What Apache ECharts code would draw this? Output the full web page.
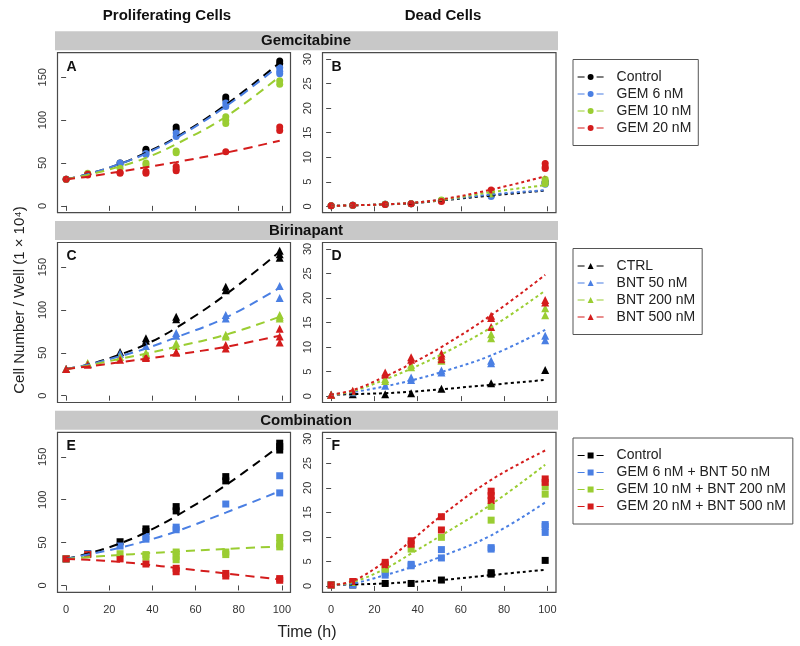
<!DOCTYPE html>
<html><head><meta charset="utf-8">
<script src="https://cdn.jsdelivr.net/npm/echarts@6/dist/echarts.min.js"></script>
<style>html,body{margin:0;padding:0;background:#fff}#c{width:800px;height:646px}</style>
</head><body><div id="c"></div>
<script>
// ---------- data ----------
const timePoints = [0, 10, 25, 37, 51, 74, 99];
const xTicks = [0, 20, 40, 60, 80, 100];
const prolifTicks = [0, 50, 100, 150];
const deadTicks = [0, 5, 10, 15, 20, 25, 30];

const gemLabels = ['Control', 'GEM 6 nM', 'GEM 10 nM', 'GEM 20 nM'];
const bntLabels = ['CTRL', 'BNT 50 nM', 'BNT 200 nM', 'BNT 500 nM'];
const comboLabels = ['Control', 'GEM 6 nM + BNT 50 nM', 'GEM 10 nM + BNT 200 nM', 'GEM 20 nM + BNT 500 nM'];
const stripTitles = ['Gemcitabine', 'Birinapant', 'Combination'];
const panelLetters = ['A', 'B', 'C', 'D', 'E', 'F'];

// Panel A: Gemcitabine, proliferating (replicates per time point)
const gemProlifControl = [[31],[37],[50],[66,64],[92,89],[127,124],[169,166]];
const gemProlif6 = [[31],[37],[50,48],[61,60],[85,81],[120,116],[161,157,154]];
const gemProlif10 = [[31],[38],[44],[50,48],[64,62],[104,100,96],[146,142]];
const gemProlif20 = [[31],[37,36],[39,38],[40,38],[46,43,41],[63],[92,88]];
const gemProlifFitControl = [31,37,49,62,80,118,167];
const gemProlifFit6 = [31,37,49,61,79,116,164];
const gemProlifFit10 = [31,36,46,56,72,104,151];
const gemProlifFit20 = [31,34,40,45,51,62,76];

// Panel B: Gemcitabine, dead
const gemDeadControl = [[0.1],[0.2],[0.4],[0.5],[1.2],[2.2],[5.0,4.7]];
const gemDead6 = [[0.1],[0.2],[0.4],[0.5],[1.2],[2.0],[4.9,4.5]];
const gemDead10 = [[0.1],[0.2],[0.4],[0.5],[1.3],[2.7,2.5],[5.5,5.0,4.6]];
const gemDead20 = [[0.1],[0.2],[0.35],[0.5],[1.0],[3.3],[8.7,8.0,7.7]];
const gemDeadFitControl = [0.1,0.2,0.4,0.6,1.2,2.2,3.2];
const gemDeadFit6 = [0.1,0.2,0.4,0.7,1.3,2.4,3.3];
const gemDeadFit10 = [0.1,0.2,0.4,0.7,1.3,2.9,4.3];
const gemDeadFit20 = [0.1,0.2,0.4,0.7,1.4,3.4,6.1];

// Panel C: Birinapant, proliferating
const bntProlifCtrl = [[31],[37],[51],[67,64],[92,89],[127,123],[169,165,161]];
const bntProlif50 = [[31],[37],[49],[58],[73,70],[94,90],[128,114]];
const bntProlif200 = [[31],[38],[45],[50,48],[61,58],[71,69],[94,92,90]];
const bntProlif500 = [[31],[36],[42],[45,44],[51,50],[59,55],[78,69,62]];
const bntProlifFitCtrl = [31,36,48,60,79,118,168];
const bntProlifFit50 = [31,36,46,55,68,91,126];
const bntProlifFit200 = [31,35,43,49,57,71,92];
const bntProlifFit500 = [31,34,39,43,48,57,70];

// Panel D: Birinapant, dead
const bntDeadCtrl = [[0.3],[0.4],[0.4],[0.6],[1.5],[2.6],[5.3]];
const bntDead50 = [[0.3],[0.8],[2.1],[3.8,3.3],[5.2,4.8],[7.2,6.7],[12.3,11.4]];
const bntDead200 = [[0.3],[1.0],[3.5,3.1],[6.4,5.9],[7.8,7.2],[12.6,11.8],[17.9,16.5]];
const bntDead500 = [[0.3],[1.1],[4.8,4.4],[7.9,7.4],[8.7,8.2,7.5],[16.4,15.9,14.1],[19.6,19.1]];
const bntDeadFitCtrl = [0.3,0.4,0.6,0.9,1.4,2.3,3.3];
const bntDeadFit50 = [0.3,0.8,2.0,3.2,4.9,8.3,13.5];
const bntDeadFit200 = [0.3,1.0,3.4,5.6,8.5,14.0,21.5];
const bntDeadFit500 = [0.3,1.2,4.0,6.6,10.0,16.5,24.7];

// Panel E: Combination, proliferating
const comboProlifControl = [[31],[37],[51],[66,63],[92,87],[127,122],[166,162,158]];
const comboProlifLow = [[31],[37],[46],[57,54],[68,65],[95],[128,108]];
const comboProlifMid = [[31],[36],[37],[36,33],[39,34,30],[39,36],[56,49,45]];
const comboProlifHigh = [[31],[36],[31],[25],[20,16],[14,11],[8,6]];
const comboProlifFitControl = [31,37,49,62,81,117,163];
const comboProlifFitLow = [31,36,44,52,63,85,110];
const comboProlifFitMid = [31,33,35.5,37.5,39.5,42.5,45.5];
const comboProlifFitHigh = [31,30,27.5,24.5,20.5,14,7];

// Panel F: Combination, dead
const comboDeadControl = [[0.2],[0.2],[0.5],[0.5],[1.2],[2.7,2.4],[5.2]];
const comboDeadLow = [[0.2],[0.2],[2.7,2.2],[4.4,4.1],[7.4,5.7],[7.8,7.5],[12.5,12.1,10.9]];
const comboDeadMid = [[0.2],[0.7],[3.7,3.4],[7.5],[9.9],[16.2,13.4],[20.2,18.7]];
const comboDeadHigh = [[0.2],[0.9],[4.8,4.3],[9.2,8.5],[14.1,11.4],[19.3,18.4,17.4],[21.8,21.1]];
const comboDeadFitControl = [0.2,0.3,0.5,0.8,1.2,2.2,3.3];
const comboDeadFitLow = [0.2,0.5,2.2,3.8,6.0,10.3,17.0];
const comboDeadFitMid = [0.2,0.8,3.5,6.6,10.3,16.6,24.7];
const comboDeadFitHigh = [0.2,1.0,5.0,9.2,14.3,21.6,27.6];

// ---------- build ----------
const colors = ['#000000', '#4a7fe3', '#9acd32', '#d41c1c'];
const groups = [
  { key: 'gem', labels: gemLabels, symbol: 'circle', size: 7,
    prolif: [gemProlifControl, gemProlif6, gemProlif10, gemProlif20],
    prolifFit: [gemProlifFitControl, gemProlifFit6, gemProlifFit10, gemProlifFit20],
    dead: [gemDeadControl, gemDead6, gemDead10, gemDead20],
    deadFit: [gemDeadFitControl, gemDeadFit6, gemDeadFit10, gemDeadFit20] },
  { key: 'bnt', labels: bntLabels, symbol: 'triangle', size: 8,
    prolif: [bntProlifCtrl, bntProlif50, bntProlif200, bntProlif500],
    prolifFit: [bntProlifFitCtrl, bntProlifFit50, bntProlifFit200, bntProlifFit500],
    dead: [bntDeadCtrl, bntDead50, bntDead200, bntDead500],
    deadFit: [bntDeadFitCtrl, bntDeadFit50, bntDeadFit200, bntDeadFit500] },
  { key: 'combo', labels: comboLabels, symbol: 'rect', size: 7,
    prolif: [comboProlifControl, comboProlifLow, comboProlifMid, comboProlifHigh],
    prolifFit: [comboProlifFitControl, comboProlifFitLow, comboProlifFitMid, comboProlifFitHigh],
    dead: [comboDeadControl, comboDeadLow, comboDeadMid, comboDeadHigh],
    deadFit: [comboDeadFitControl, comboDeadFitLow, comboDeadFitMid, comboDeadFitHigh] }
];

const FONT = '"Liberation Sans", Arial, sans-serif';
const colLeft = [57.5, 322.5], colWidth = [233, 233.5];
const rowTop = [52.7, 242.5, 432.3], rowH = 160;
const grids = [], xAxes = [], yAxes = [];
for (let i = 0; i < 6; i++) {
  const c = i % 2, r = Math.floor(i / 2);
  grids.push({ left: colLeft[c], top: rowTop[r], width: colWidth[c], height: rowH,
    show: true, borderColor: '#4a4a4a', borderWidth: 1.2, backgroundColor: '#fff' });
  xAxes.push({ gridIndex: i, type: 'value', min: -4, max: 104,
    axisLine: { show: false }, splitLine: { show: false },
    axisTick: { show: true, customValues: xTicks, length: 5, lineStyle: { color: '#4a4a4a', width: 1 } },
    axisLabel: { show: r === 2, customValues: xTicks, fontSize: 11, fontFamily: FONT, color: '#333', margin: 12 } });
  const ticks = c === 0 ? prolifTicks : deadTicks;
  yAxes.push({ gridIndex: i, type: 'value',
    min: c === 0 ? -8 : -1.3, max: c === 0 ? 178.7 : 31.3,
    axisLine: { show: false }, splitLine: { show: false },
    axisTick: { show: true, customValues: ticks, length: 5, lineStyle: { color: '#4a4a4a', width: 1 } },
    axisLabel: { customValues: ticks, rotate: 90, fontSize: 11, fontFamily: FONT, color: '#333', margin: 9 } });
}

const series = [];
const labelMap = {};
function pts(reps) {
  const out = [];
  reps.forEach((vals, k) => vals.forEach(v => out.push([timePoints[k], v])));
  return out;
}
function fit(vals) { return vals.map((v, k) => [timePoints[k], v]); }
groups.forEach((g, gi) => {
  const gP = gi * 2, gD = gi * 2 + 1;
  for (let s = 0; s < 4; s++) {
    const name = g.key + '|' + s;
    labelMap[name] = g.labels[s];
    series.push({ type: 'line', name, xAxisIndex: gP, yAxisIndex: gP, data: fit(g.prolifFit[s]),
      smooth: 0.4, symbol: g.symbol, showSymbol: false, silent: true,
      color: colors[s], lineStyle: { color: colors[s], width: 2, type: [9, 6] } });
  }
  for (let s = 0; s < 4; s++) {
    const name = g.key + '|' + s;
    series.push({ type: 'line', name, xAxisIndex: gD, yAxisIndex: gD, data: fit(g.deadFit[s]),
      smooth: 0.4, symbol: g.symbol, showSymbol: false, silent: true,
      color: colors[s], lineStyle: { color: colors[s], width: 2, type: [3, 3] } });
  }
  for (let s = 0; s < 4; s++) {
    const name = g.key + '|' + s;
    series.push({ type: 'scatter', name, xAxisIndex: gP, yAxisIndex: gP, data: pts(g.prolif[s]),
      symbol: g.symbol, symbolSize: g.size, itemStyle: { color: colors[s], opacity: 1 } });
    series.push({ type: 'scatter', name, xAxisIndex: gD, yAxisIndex: gD, data: pts(g.dead[s]),
      symbol: g.symbol, symbolSize: g.size, itemStyle: { color: colors[s], opacity: 1 } });
  }
});

const legendTops = [59.5, 248.5, 438];
const legends = groups.map((g, k) => ({
  orient: 'vertical', left: 573, top: legendTops[k], align: 'left',
  data: [0, 1, 2, 3].map(s => g.key + '|' + s),
  formatter: name => labelMap[name],
  itemWidth: 26, itemHeight: 7.5, itemGap: 0,
  textStyle: { fontSize: 14, fontFamily: FONT, color: '#222', lineHeight: 17, padding: [0, 0, 0, 8] },
  lineStyle: { width: 1.2, type: [7, 12] },
  borderColor: '#555', borderWidth: 1, padding: [9, 7, 9, 4], backgroundColor: '#fff'
}));

const graphic = [];
stripTitles.forEach((t, r) => {
  const top = rowTop[r] - 21.5;
  graphic.push({ type: 'rect', shape: { x: 55, y: top, width: 503, height: 19 }, style: { fill: '#c8c8c8' }, silent: true });
  graphic.push({ type: 'text', x: 306, y: top + 10, style: { text: t, font: 'bold 15px ' + FONT, fill: '#111', align: 'center', verticalAlign: 'middle' }, silent: true });
});
for (let i = 0; i < 6; i++) {
  const c = i % 2, r = Math.floor(i / 2);
  graphic.push({ type: 'text', x: colLeft[c] + 9, y: rowTop[r] + 14, z: 10,
    style: { text: panelLetters[i], font: 'bold 14px ' + FONT, fill: '#111', align: 'left', verticalAlign: 'middle' }, silent: true });
}
graphic.push({ type: 'text', x: 167, y: 16, style: { text: 'Proliferating Cells', font: 'bold 15px ' + FONT, fill: '#111', align: 'center', verticalAlign: 'middle' } });
graphic.push({ type: 'text', x: 443, y: 16, style: { text: 'Dead Cells', font: 'bold 15px ' + FONT, fill: '#111', align: 'center', verticalAlign: 'middle' } });
graphic.push({ type: 'text', x: 307, y: 633, style: { text: 'Time (h)', font: '16px ' + FONT, fill: '#222', align: 'center', verticalAlign: 'middle' } });
graphic.push({ type: 'text', x: 20, y: 300, rotation: Math.PI / 2, style: { text: 'Cell Number / Well (1 × 10⁴)', font: '15px ' + FONT, fill: '#222', align: 'center', verticalAlign: 'middle' } });

const chart = echarts.init(document.getElementById('c'), null, { renderer: 'canvas' });
chart.setOption({
  animation: false,
  backgroundColor: '#fff',
  grid: grids, xAxis: xAxes, yAxis: yAxes,
  legend: legends,
  series,
  graphic
});
</script></body></html>
